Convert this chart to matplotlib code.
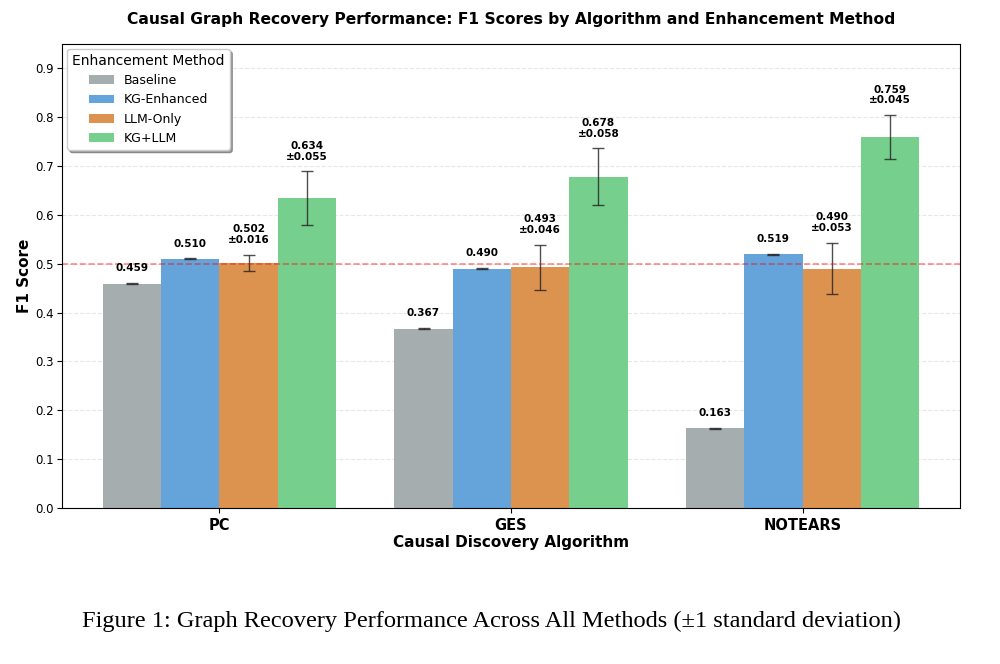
import numpy as np
import matplotlib
matplotlib.use('Agg')
import matplotlib.pyplot as plt

plt.rcParams['font.family'] = ['DejaVu Sans']

algorithms = ['PC', 'GES', 'NOTEARS']
methods = ['Baseline', 'KG-Enhanced', 'LLM-Only', 'KG+LLM']
colors = ['#a6adae', '#65a3db', '#dd9350', '#76cf8c']

# F1 means and standard deviations (rows: methods, cols: algorithms)
f1_mean = [[0.459, 0.367, 0.163],
           [0.510, 0.490, 0.519],
           [0.502, 0.493, 0.490],
           [0.634, 0.678, 0.759]]
f1_std = [[0.001, 0.001, 0.001],
          [0.001, 0.001, 0.001],
          [0.016, 0.046, 0.053],
          [0.055, 0.058, 0.045]]

fig = plt.figure(figsize=(10, 6.64), dpi=100)
ax = fig.add_axes([0.062, 0.235, 0.898, 0.699])

x = np.arange(len(algorithms))
w = 0.2
for i, m in enumerate(methods):
    pos = x + (i - 1.5) * w
    ax.bar(pos, f1_mean[i], w, yerr=f1_std[i], color=colors[i], label=m,
           capsize=4, error_kw={'ecolor': '#222222', 'elinewidth': 1, 'alpha': 0.8, 'capthick': 1})
    for px, v, s in zip(pos, f1_mean[i], f1_std[i]):
        if s > 0.005:
            txt = f'{v:.3f}\n±{s:.3f}'
        else:
            txt = f'{v:.3f}'
        ax.text(px, v + s + 0.02, txt, ha='center', va='bottom', fontsize=7.5,
                fontweight='bold', linespacing=1.1)

ax.axhline(0.5, color='red', ls='--', lw=1.2, alpha=0.45)
ax.set_ylim(0, 0.95)
ax.set_yticks(np.arange(0, 0.91, 0.1))
ax.set_xticks(x)
ax.set_xticklabels(algorithms, fontsize=10.5, fontweight='bold')
ax.tick_params(axis='y', labelsize=8.5, pad=2.5)
ax.grid(axis='y', ls='--', alpha=0.3)
ax.set_axisbelow(True)
ax.set_xlabel('Causal Discovery Algorithm', fontsize=11, fontweight='bold', labelpad=2)
ax.set_ylabel('F1 Score', fontsize=11, fontweight='bold', labelpad=2)
ax.set_title('Causal Graph Recovery Performance: F1 Scores by Algorithm and Enhancement Method',
             fontsize=11.2, fontweight='bold', pad=14)
leg = ax.legend(title='Enhancement Method', loc='upper left', fontsize=9,
                title_fontsize=10, frameon=True, shadow=True, fancybox=True,
                borderaxespad=0.4)

fig.text(0.492, 0.064, 'Figure 1: Graph Recovery Performance Across All Methods (±1 standard deviation)',
         ha='center', va='center', fontsize=17.6, family=['Liberation Serif', 'DejaVu Serif'])

fig.savefig('out.png', dpi=100)
